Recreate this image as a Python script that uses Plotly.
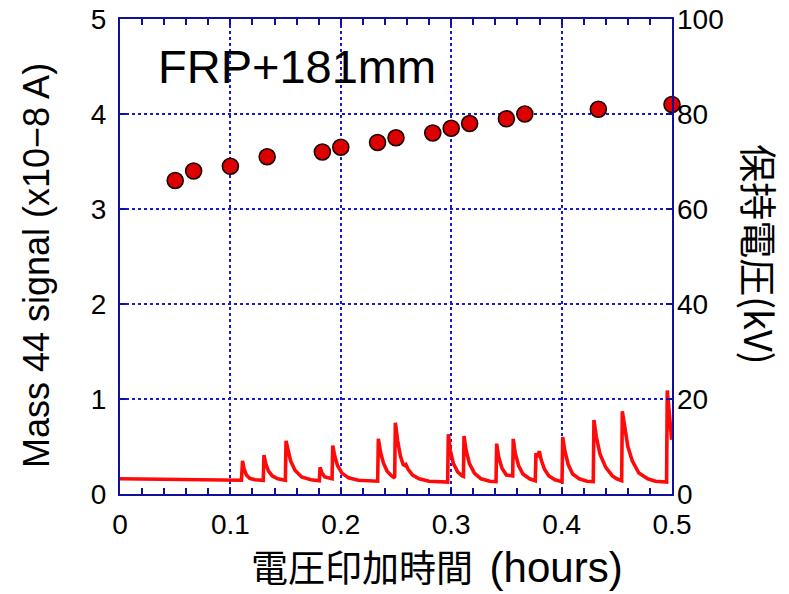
import plotly.graph_objects as go

# Mass 44 signal trace (hours, x1e-8 A)
signal_time = [
    0.0000, 0.0500, 0.1100,
    0.1110, 0.1125, 0.1145, 0.1175, 0.1220, 0.1298,
    0.1304, 0.1320, 0.1345, 0.1380, 0.1430, 0.1498,
    0.1504, 0.1525, 0.1545, 0.1585, 0.1645, 0.1730, 0.1806,
    0.1812, 0.1830, 0.1855, 0.1921,
    0.1927, 0.1945, 0.1970, 0.2010, 0.2070, 0.2160, 0.2334,
    0.2340, 0.2360, 0.2385, 0.2420, 0.2460, 0.2488,
    0.2494, 0.2515, 0.2540, 0.2565, 0.2580, 0.2590, 0.2610, 0.2650, 0.2710, 0.2800, 0.2968,
    0.2974, 0.2992, 0.3020, 0.3060, 0.3100, 0.3111,
    0.3116, 0.3135, 0.3165, 0.3210, 0.3270, 0.3350, 0.3406,
    0.3412, 0.3430, 0.3460, 0.3500, 0.3557,
    0.3562, 0.3580, 0.3610, 0.3650, 0.3710, 0.3762,
    0.3768, 0.3783, 0.3798, 0.3815, 0.3845, 0.3885, 0.3940, 0.4004,
    0.4010, 0.4030, 0.4060, 0.4100, 0.4160, 0.4230, 0.4287,
    0.4293, 0.4315, 0.4348, 0.4400, 0.4460, 0.4500, 0.4544,
    0.4550, 0.4572, 0.4600, 0.4640, 0.4700, 0.4780, 0.4850, 0.4951,
    0.4957, 0.4997,
]
signal_value = [
    0.160, 0.155, 0.145,
    0.350, 0.260, 0.200, 0.165, 0.150, 0.145,
    0.410, 0.320, 0.240, 0.190, 0.160, 0.145,
    0.560, 0.440, 0.350, 0.250, 0.180, 0.150, 0.140,
    0.280, 0.220, 0.180, 0.160,
    0.510, 0.400, 0.300, 0.220, 0.170, 0.145, 0.135,
    0.580, 0.440, 0.330, 0.240, 0.190, 0.170,
    0.750, 0.560, 0.400, 0.310, 0.300, 0.310, 0.260, 0.200, 0.160, 0.135, 0.125,
    0.630, 0.460, 0.320, 0.230, 0.190, 0.185,
    0.610, 0.460, 0.320, 0.220, 0.160, 0.135, 0.130,
    0.530, 0.390, 0.270, 0.200, 0.190,
    0.580, 0.430, 0.300, 0.210, 0.160, 0.140,
    0.430, 0.390, 0.450, 0.360, 0.260, 0.190, 0.150, 0.130,
    0.600, 0.450, 0.310, 0.210, 0.160, 0.135, 0.130,
    0.780, 0.600, 0.420, 0.280, 0.190, 0.160, 0.140,
    0.870, 0.680, 0.500, 0.350, 0.220, 0.160, 0.135, 0.125,
    1.090, 0.570,
]

# Holding voltage steps (hours, kV)
voltage_time = [0.05, 0.0667, 0.10, 0.1333, 0.1833, 0.20, 0.2333, 0.25,
                0.2833, 0.30, 0.3167, 0.35, 0.3667, 0.4333, 0.50]
voltage_kv = [66, 68, 69, 71, 72, 73, 74, 75, 76, 77, 78, 79, 80, 81, 82]

x_ticks = [0, 0.1, 0.2, 0.3, 0.4, 0.5]
y_ticks = [0, 1, 2, 3, 4, 5]
y2_ticks = [0, 20, 40, 60, 80, 100]

LATIN = "Arial, 'Liberation Sans', 'Noto Sans CJK JP', sans-serif"
CJK = "'Noto Sans CJK JP', 'Liberation Sans', sans-serif"
AXIS_BLUE = "#10109a"
GRID_BLUE = "#1a1acc"

fig = go.Figure()
fig.add_trace(go.Scatter(
    x=signal_time, y=signal_value, mode="lines",
    line=dict(color="#ff0a0a", width=3.6), yaxis="y", showlegend=False,
))
fig.add_trace(go.Scatter(
    x=voltage_time, y=voltage_kv, mode="markers",
    marker=dict(size=16, color="#dd0000", line=dict(color="#1a0000", width=1.6)),
    yaxis="y2", showlegend=False, cliponaxis=False,
))

x_title = ("電圧印加時間\u00a0\u00a0<span style='font-family:Arial, Liberation Sans;"
           "font-size:42px'>(hours)</span>")

fig.update_layout(
    width=789, height=594,
    margin=dict(l=120, r=117, t=19, b=100),
    plot_bgcolor="white", paper_bgcolor="white",
    font=dict(family=LATIN, size=28, color="black"),
    xaxis=dict(
        range=[0, 0.5], tickvals=x_ticks, ticktext=[str(v) for v in x_ticks],
        showline=True, linecolor=AXIS_BLUE, linewidth=2, mirror="allticks",
        ticks="inside", ticklen=6, tickwidth=1.5, tickcolor=AXIS_BLUE,
        minor=dict(dtick=0.02, ticks="inside", ticklen=6, tickwidth=1.5,
                   tickcolor=AXIS_BLUE, showgrid=False),
        showgrid=True, gridcolor=GRID_BLUE, gridwidth=1.5, griddash="dot",
        zeroline=False, ticklabelstandoff=4, automargin=False,
        tickfont=dict(size=28, family=LATIN),
    ),
    yaxis=dict(
        range=[0, 5], tickvals=y_ticks,
        showline=True, linecolor=AXIS_BLUE, linewidth=2, mirror=True,
        ticks="inside", ticklen=6, tickwidth=1.5, tickcolor=AXIS_BLUE,
        showgrid=True, gridcolor=GRID_BLUE, gridwidth=1.5, griddash="dot",
        zeroline=False, ticklabelstandoff=6, automargin=False,
        tickfont=dict(size=28, family=LATIN),
    ),
    yaxis2=dict(
        range=[0, 100], tickvals=y2_ticks, overlaying="y", side="right",
        showline=False, ticks="inside", ticklen=6, tickwidth=1.5,
        tickcolor=AXIS_BLUE, showgrid=False, zeroline=False, automargin=False,
        ticklabelstandoff=4, tickfont=dict(size=28, family=LATIN),
    ),
    annotations=[
        dict(text="FRP+181mm", xref="paper", yref="paper", x=0.066, y=0.899,
             xanchor="left", yanchor="middle", showarrow=False,
             font=dict(size=47, family=LATIN, color="black")),
        dict(text="Mass 44 signal (x10\u22128 A)", xref="paper", yref="paper",
             x=-0.152, y=0.48, textangle=-90, xanchor="center", yanchor="middle",
             showarrow=False, font=dict(size=36, family=LATIN, color="black")),
        dict(text="保持電圧(kV)", xref="paper", yref="paper",
             x=1.161, y=0.503, textangle=90, xanchor="center", yanchor="middle",
             showarrow=False, font=dict(size=38, family=CJK, color="black")),
        dict(text=x_title, xref="paper", yref="paper",
             x=0.574, y=-0.152, xanchor="center", yanchor="middle",
             showarrow=False, font=dict(size=37, family=CJK, color="black")),
    ],
)

fig.write_html("out.html")
